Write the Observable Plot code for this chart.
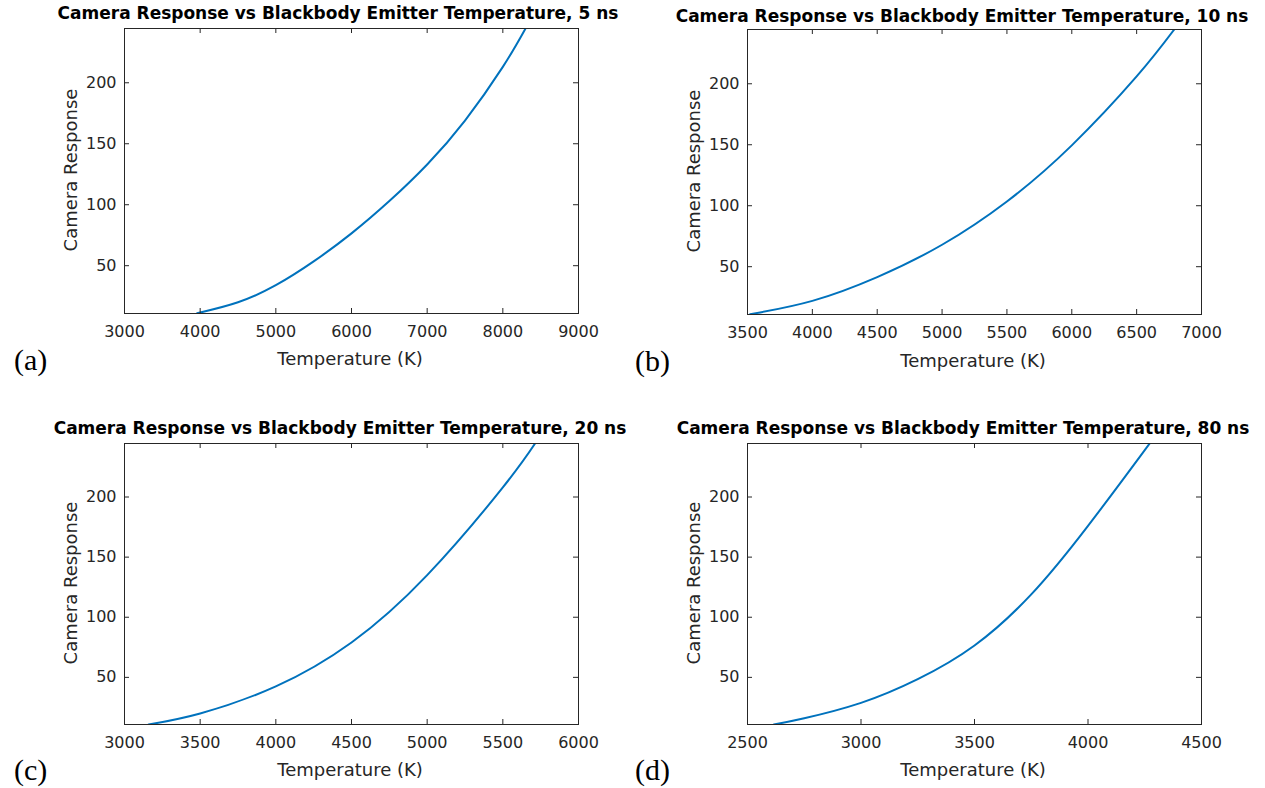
<!DOCTYPE html>
<html><head><meta charset="utf-8">
<script src="https://cdn.jsdelivr.net/npm/d3@7"></script>
<script src="https://cdn.jsdelivr.net/npm/@observablehq/plot@0.6"></script>
<style>
body{margin:0;background:#fff;}
#root{position:relative;width:1265px;height:788px;overflow:hidden;background:#fff;}
.p{position:absolute;}
.t{position:absolute;white-space:nowrap;transform:translate(-50%,-50%);}
.title{font-family:"DejaVu Sans";font-weight:bold;font-size:17px;color:#000;}
.xl{font-family:"DejaVu Sans";font-size:18px;color:#262626;}
.yl{font-family:"DejaVu Sans";font-size:18px;color:#262626;transform:translate(-50%,-50%) rotate(-90deg);}
.tag{position:absolute;font-family:"Liberation Serif";font-size:30px;color:#000;transform:translateY(-50%);}
</style></head>
<body><div id="root"></div>
<script>
// Data
const tempA = [3960, 4500, 5000, 5500, 6000, 6500, 7000, 7500, 8000, 8300];
const respA = [11, 20, 34, 53.5, 76.5, 103, 133, 169, 213, 244.5];
const tempB = [3520, 4000, 4500, 5000, 5500, 6000, 6500, 6790];
const respB = [11, 22, 41.5, 68, 103.5, 149.5, 206, 244.5];
const tempC = [3159, 3500, 4000, 4500, 5000, 5500, 5713];
const respC = [10.8, 20, 42.5, 79, 135, 208, 244.5];
const tempD = [2616, 2750, 3000, 3250, 3500, 3750, 4000, 4250, 4275];
const respD = [10.8, 16, 28.8, 48.5, 76.5, 119, 176, 239, 245.5];

const titles = [
  "Camera Response vs Blackbody Emitter Temperature, 5 ns",
  "Camera Response vs Blackbody Emitter Temperature, 10 ns",
  "Camera Response vs Blackbody Emitter Temperature, 20 ns",
  "Camera Response vs Blackbody Emitter Temperature, 80 ns"
];
const tags = ["(a)", "(b)", "(c)", "(d)"];
const xLabel = "Temperature (K)";
const yLabel = "Camera Response";
const xDomains = [[3000, 9000], [3500, 7000], [3000, 6000], [2500, 4500]];
const xTicks = [
  [3000, 4000, 5000, 6000, 7000, 8000, 9000],
  [3500, 4000, 4500, 5000, 5500, 6000, 6500, 7000],
  [3000, 3500, 4000, 4500, 5000, 5500, 6000],
  [2500, 3000, 3500, 4000, 4500]
];
const yTicks = [50, 100, 150, 200];
const yDomain = [10.8, 244.5];

const series = [[tempA, respA], [tempB, respB], [tempC, respC], [tempD, respD]];

// layout (page pixels)
const layout = [
  {left: 0,   top: 0,   w: 630, h: 392, l: 124, r: 578,  t: 28,  b: 313, tx: 338, ty: 13,  xx: 350, xy: 358, yx: 70,  yy: 170, gx: 14,  gy: 360},
  {left: 630, top: 0,   w: 635, h: 392, l: 747, r: 1201, t: 29,  b: 314, tx: 962, ty: 16,  xx: 973, xy: 360, yx: 693, yy: 171, gx: 635, gy: 361},
  {left: 0,   top: 395, w: 630, h: 393, l: 124, r: 578,  t: 443, b: 724, tx: 340, ty: 428, xx: 350, xy: 769, yx: 70,  yy: 583, gx: 14,  gy: 770},
  {left: 630, top: 395, w: 635, h: 393, l: 747, r: 1201, t: 443, b: 724, tx: 963, ty: 428, xx: 973, xy: 769, yx: 693, yy: 583, gx: 635, gy: 770}
];

const root = document.getElementById("root");
const axisColor = "#262626";

layout.forEach((L, i) => {
  const [xs, ys] = series[i];
  const data = xs.map((x, k) => ({x, y: ys[k]}));
  const fw = L.r - L.l, fh = L.b - L.t;
  const chart = Plot.plot({
    width: L.w, height: L.h,
    marginLeft: L.l - L.left, marginRight: L.left + L.w - L.r,
    marginTop: L.t - L.top, marginBottom: L.top + L.h - L.b,
    style: {fontFamily: "DejaVu Sans", fontSize: "16px", color: axisColor, background: "transparent", overflow: "visible"},
    x: {domain: xDomains[i]},
    y: {domain: yDomain},
    marks: [
      Plot.line(data, {x: "x", y: "y", stroke: "#0072BD", strokeWidth: 2, curve: "natural", clip: true}),
      Plot.tickX(xTicks[i], {x: d => d, stroke: axisColor, insetTop: fh - 5}),
      Plot.tickX(xTicks[i], {x: d => d, stroke: axisColor, insetBottom: fh - 5}),
      Plot.tickY(yTicks, {y: d => d, stroke: axisColor, insetRight: fw - 5}),
      Plot.tickY(yTicks, {y: d => d, stroke: axisColor, insetLeft: fw - 5}),
      Plot.frame({stroke: axisColor, strokeWidth: 1}),
      Plot.axisX({ticks: xTicks[i], tickSize: 0, tickPadding: 12, tickFormat: d => String(d), label: null, fill: axisColor}),
      Plot.axisY({ticks: yTicks, tickSize: 0, tickPadding: 8, tickFormat: d => String(d), label: null, fill: axisColor})
    ]
  });
  chart.classList.add("p");
  chart.style.left = L.left + "px";
  chart.style.top = L.top + "px";
  root.appendChild(chart);

  const mk = (cls, txt, x, y) => {
    const d = document.createElement("div");
    d.className = cls;
    d.textContent = txt;
    d.style.left = x + "px";
    d.style.top = y + "px";
    root.appendChild(d);
  };
  mk("t title", titles[i], L.tx, L.ty);
  mk("t xl", xLabel, L.xx, L.xy);
  mk("t yl", yLabel, L.yx, L.yy);
  mk("tag", tags[i], L.gx, L.gy);
});
</script>
</body></html>
